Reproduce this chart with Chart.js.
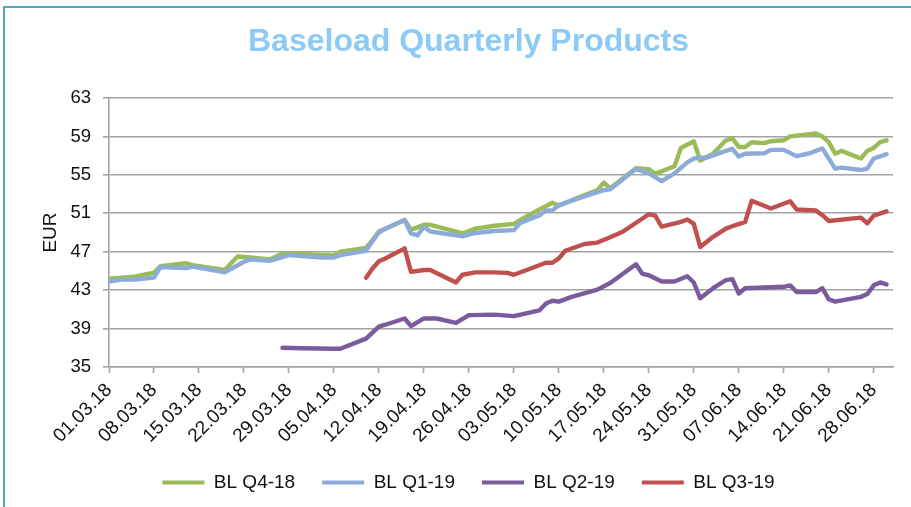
<!DOCTYPE html>
<html>
<head>
<meta charset="utf-8">
<title>Baseload Quarterly Products</title>
<script src="https://cdn.jsdelivr.net/npm/chart.js@4.4.1/dist/chart.umd.min.js"></script>
<style>
  html, body { margin: 0; padding: 0; background: #fff; }
  #wrap { position: relative; width: 911px; height: 507px; overflow: hidden; }
  #frame { position: absolute; left: 3px; top: 6px; width: 940px; height: 540px; border-top: 2px solid #4bacc6; border-left: 2px solid #4bacc6; }
  #chart { position: absolute; left: 0; top: 0; }
</style>
</head>
<body>
<div id="wrap">
  <div id="frame"></div>
  <canvas id="chart" width="911" height="507"></canvas>
</div>
<script>
// tick labels on the date axis (one per week)
var weekLabels = ["01.03.18", "08.03.18", "15.03.18", "22.03.18", "29.03.18", "05.04.18", "12.04.18", "19.04.18", "26.04.18",
  "03.05.18", "10.05.18", "17.05.18", "24.05.18", "31.05.18", "07.06.18", "14.06.18", "21.06.18", "28.06.18"];

var seriesNames = ["BL Q4-18", "BL Q1-19", "BL Q2-19", "BL Q3-19"];

var q418Dates = ["01.03.18", "05.03.18", "07.03.18", "08.03.18", "09.03.18", "13.03.18", "14.03.18", "19.03.18", "21.03.18", "23.03.18",
  "26.03.18", "28.03.18", "31.03.18", "02.04.18", "05.04.18", "06.04.18", "10.04.18", "11.04.18", "12.04.18", "13.04.18",
  "16.04.18", "17.04.18", "19.04.18", "20.04.18", "24.04.18", "25.04.18", "27.04.18", "30.04.18", "03.05.18", "04.05.18",
  "07.05.18", "09.05.18", "10.05.18", "14.05.18", "16.05.18", "17.05.18", "18.05.18", "22.05.18", "24.05.18", "25.05.18",
  "28.05.18", "29.05.18", "31.05.18", "01.06.18", "03.06.18", "05.06.18", "06.06.18", "07.06.18", "08.06.18", "09.06.18",
  "11.06.18", "12.06.18", "14.06.18", "15.06.18", "19.06.18", "20.06.18", "21.06.18", "22.06.18", "23.06.18", "26.06.18",
  "27.06.18", "28.06.18", "29.06.18", "30.06.18"];
var q418Values = [44.2, 44.4, 44.7, 44.8, 45.5, 45.8, 45.6, 45.1, 46.5, 46.4,
  46.2, 46.8, 46.8, 46.7, 46.6, 47.0, 47.4, 48.2, 49.1, 49.4,
  50.3, 49.3, 49.8, 49.8, 49.1, 48.9, 49.4, 49.7, 49.9, 50.3,
  51.4, 52.1, 51.8, 52.9, 53.4, 54.2, 53.6, 55.7, 55.6, 55.1,
  55.9, 57.8, 58.5, 56.5, 57.2, 58.6, 58.8, 57.9, 57.9, 58.4,
  58.3, 58.5, 58.6, 59.0, 59.3, 59.0, 58.4, 57.2, 57.5, 56.7,
  57.5, 57.8, 58.4, 58.6];

var q119Dates = ["01.03.18", "03.03.18", "05.03.18", "08.03.18", "09.03.18", "13.03.18", "14.03.18", "19.03.18", "22.03.18", "23.03.18",
  "26.03.18", "29.03.18", "31.03.18", "03.04.18", "05.04.18", "06.04.18", "10.04.18", "11.04.18", "12.04.18", "13.04.18",
  "16.04.18", "17.04.18", "18.04.18", "19.04.18", "20.04.18", "24.04.18", "25.04.18", "27.04.18", "30.04.18", "03.05.18",
  "04.05.18", "07.05.18", "08.05.18", "09.05.18", "10.05.18", "15.05.18", "17.05.18", "18.05.18", "22.05.18", "24.05.18",
  "26.05.18", "28.05.18", "30.05.18", "31.05.18", "02.06.18", "05.06.18", "06.06.18", "07.06.18", "08.06.18", "11.06.18",
  "12.06.18", "14.06.18", "16.06.18", "18.06.18", "19.06.18", "20.06.18", "22.06.18", "23.06.18", "26.06.18", "27.06.18",
  "28.06.18", "30.06.18"];
var q119Values = [43.9, 44.1, 44.1, 44.3, 45.4, 45.3, 45.45, 44.85, 45.95, 46.2,
  46.05, 46.65, 46.55, 46.4, 46.4, 46.65, 47.1, 48.1, 49.0, 49.4,
  50.3, 48.9, 48.7, 49.6, 49.1, 48.7, 48.6, 48.95, 49.15, 49.25,
  50.0, 50.8, 51.3, 51.3, 51.85, 53.0, 53.4, 53.5, 55.6, 55.15,
  54.35, 55.15, 56.3, 56.7, 56.8, 57.5, 57.7, 56.9, 57.2, 57.25,
  57.6, 57.6, 56.95, 57.25, 57.5, 57.75, 55.65, 55.75, 55.5, 55.65,
  56.7, 57.15];

var q219Dates = ["28.03.18", "31.03.18", "05.04.18", "06.04.18", "10.04.18", "12.04.18", "13.04.18", "16.04.18", "17.04.18", "19.04.18",
  "21.04.18", "24.04.18", "26.04.18", "30.04.18", "03.05.18", "07.05.18", "08.05.18", "09.05.18", "10.05.18", "12.05.18",
  "16.05.18", "18.05.18", "22.05.18", "23.05.18", "24.05.18", "26.05.18", "28.05.18", "30.05.18", "31.05.18", "01.06.18",
  "03.06.18", "05.06.18", "06.06.18", "07.06.18", "08.06.18", "14.06.18", "15.06.18", "16.06.18", "19.06.18", "20.06.18",
  "21.06.18", "22.06.18", "26.06.18", "27.06.18", "28.06.18", "29.06.18", "30.06.18"];
var q219Values = [37.0, 36.95, 36.9, 36.9, 37.95, 39.2, 39.4, 40.05, 39.25, 40.05,
  40.05, 39.6, 40.4, 40.45, 40.3, 40.9, 41.6, 41.9, 41.8, 42.3,
  43.05, 43.75, 45.7, 44.7, 44.55, 43.9, 43.9, 44.45, 43.8, 42.15,
  43.2, 44.05, 44.15, 42.65, 43.2, 43.35, 43.5, 42.8, 42.8, 43.2,
  42.05, 41.8, 42.3, 42.6, 43.5, 43.8, 43.6];

var q319Dates = ["10.04.18", "11.04.18", "12.04.18", "13.04.18", "16.04.18", "17.04.18", "19.04.18", "20.04.18", "24.04.18", "25.04.18",
  "27.04.18", "30.04.18", "02.05.18", "03.05.18", "05.05.18", "08.05.18", "09.05.18", "10.05.18", "11.05.18", "14.05.18",
  "16.05.18", "18.05.18", "20.05.18", "24.05.18", "25.05.18", "26.05.18", "29.05.18", "30.05.18", "31.05.18", "01.06.18",
  "03.06.18", "05.06.18", "06.06.18", "08.06.18", "09.06.18", "12.06.18", "15.06.18", "16.06.18", "19.06.18", "20.06.18",
  "21.06.18", "26.06.18", "27.06.18", "28.06.18", "30.06.18"];
var q319Values = [44.3, 45.25, 46.0, 46.3, 47.35, 44.9, 45.1, 45.1, 43.8, 44.6,
  44.85, 44.85, 44.8, 44.6, 45.1, 45.85, 45.85, 46.3, 47.1, 47.8,
  47.95, 48.5, 49.1, 50.9, 50.75, 49.6, 50.1, 50.35, 49.9, 47.5,
  48.55, 49.4, 49.65, 50.1, 52.3, 51.5, 52.25, 51.4, 51.3, 50.8,
  50.2, 50.55, 49.95, 50.75, 51.2];

var FONT = "'Liberation Sans', Arial, sans-serif";

// days since 01.03.18
function dayIndex(str) {
  var p = str.split(".");
  var t = Date.UTC(2000 + Number(p[2]), Number(p[1]) - 1, Number(p[0]));
  return Math.round((t - Date.UTC(2018, 2, 1)) / 86400000);
}

function toPoints(dates, values) {
  return dates.map(function (d, i) {
    return { x: dayIndex(d), y: values[i] };
  });
}

function lineSet(label, dates, values, color, order) {
  return {
    label: label,
    data: toPoints(dates, values),
    borderColor: color,
    backgroundColor: color,
    borderWidth: 4.4,
    pointRadius: 0,
    tension: 0,
    borderJoinStyle: "round",
    borderCapStyle: "round",
    order: order,
  };
}

var datasets = [
  lineSet(seriesNames[0], q418Dates, q418Values, "#9bbb59", 4),
  lineSet(seriesNames[1], q119Dates, q119Values, "#8dabd8", 3),
  lineSet(seriesNames[2], q219Dates, q219Values, "#7a5c9c", 2),
  lineSet(seriesNames[3], q319Dates, q319Values, "#c0504d", 1),
];

var gridGray = "#a3a3a3";

var config = {
  type: "line",
  data: { datasets: datasets },
  options: {
    responsive: false,
    animation: false,
    devicePixelRatio: 1,
    layout: { padding: { left: 26, right: 0, top: 0, bottom: 5 } },
    scales: {
      x: {
        type: "linear",
        min: 0,
        max: 122,
        afterFit: function (s) {
          s.height = 79;
          s.paddingLeft = 0;
          s.paddingRight = 18;
        },
        border: { color: gridGray, width: 1.6 },
        grid: { drawOnChartArea: false, drawTicks: true, tickLength: 6, tickColor: gridGray, tickWidth: 1.6 },
        ticks: {
          stepSize: 7,
          includeBounds: false,
          autoSkip: false,
          minRotation: 45,
          maxRotation: 45,
          padding: 6,
          color: "#111",
          font: { family: FONT, size: 19 },
          callback: function (value) {
            return weekLabels[Math.round(value / 7)];
          },
        },
      },
      y: {
        min: 35,
        max: 63,
        afterFit: function (s) {
          s.width = 83;
        },
        border: { color: gridGray, width: 1.6 },
        grid: { color: gridGray, lineWidth: 1.6, tickLength: 6 },
        ticks: {
          stepSize: 4,
          padding: 12,
          color: "#111",
          font: { family: FONT, size: 18.5 },
        },
        title: {
          display: true,
          text: "EUR",
          color: "#111",
          padding: { top: 13, bottom: 0 },
          font: { family: FONT, size: 19 },
        },
      },
    },
    plugins: {
      tooltip: { enabled: false },
      title: {
        display: true,
        text: "Baseload Quarterly Products",
        color: "#8ecaf6",
        font: { family: FONT, size: 32, weight: "bold" },
        padding: { top: 23, bottom: 36.6 },
      },
      legend: {
        position: "bottom",
        labels: {
          boxWidth: 42,
          boxHeight: 4,
          padding: 27,
          color: "#111",
          font: { family: FONT, size: 19 },
          sort: function (a, b) {
            return a.datasetIndex - b.datasetIndex;
          },
          generateLabels: function (chart) {
            var items = Chart.defaults.plugins.legend.labels.generateLabels(chart);
            items.forEach(function (it) {
              it.lineWidth = 0;
            });
            return items;
          },
        },
      },
    },
  },
};

const ctx = document.getElementById("chart").getContext("2d");
const myChart = new Chart(ctx, config);
</script>
</body>
</html>
